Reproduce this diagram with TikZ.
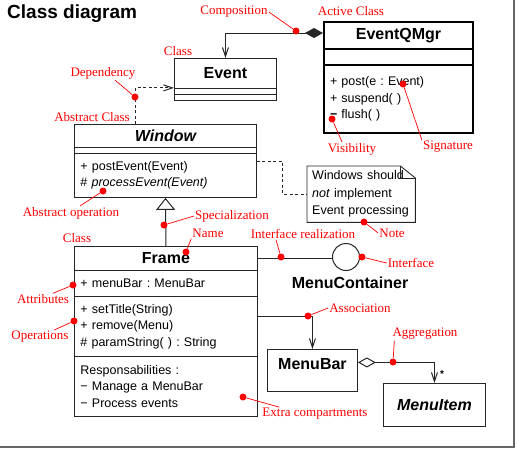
\documentclass[tikz,border=0pt]{standalone}
\usepackage{fontspec}
\setmainfont{Liberation Sans}
\newfontfamily\tagfont{Liberation Serif}
\usetikzlibrary{arrows.meta, positioning}
\frenchspacing

\tikzset{
  compart/.style={draw=black!85, line width=0.9pt, anchor=north west, inner xsep=6pt, inner ysep=0pt, align=left, font=\fontsize{12.5}{16.5}\selectfont},
  clsname/.style={compart, align=center, font=\bfseries\fontsize{16}{19}\selectfont},
  active/.style={draw=black, line width=2pt},
  tag/.style={text=red, inner sep=1pt, font=\tagfont\fontsize{13}{15}\selectfont},
  reddot/.style={circle, fill=red, inner sep=0pt, minimum size=7pt},
  lead/.style={red, line width=0.7pt},
  link/.style={black!85, line width=1pt},
  dep/.style={link, dash pattern=on 3pt off 2.5pt},
  barb/.style={-{Straight Barb[length=9pt,width=6pt]}},
}

\begin{document}
\begin{tikzpicture}[x=1pt, y=-1pt]
  \useasboundingbox (0,0) rectangle (517,451);

  % frame and title
  \draw[black!60, line width=1.5pt] (514,0) -- (514,447) -- (0,447);
  \node[anchor=west, inner sep=0pt, font=\bfseries\fontsize{19}{22}\selectfont] (title) at (7,14) {Class diagram};

  % active class
  \node[clsname, active, minimum width=149pt, minimum height=27pt] (qName) at (323,21) {EventQMgr};
  \node[compart, active, minimum width=149pt, minimum height=16pt] (qAttr) at (323,48) {};
  \node[compart, active, minimum width=149pt, text width=137pt, minimum height=68pt] (qOps) at (323,64)
    {+ post(e : Event)\\+ suspend( )\\\textbf{−} flush( )\\[-1pt]};

  % event
  \node[clsname, minimum width=102pt, minimum height=30pt] (eName) at (174,58) {Event};
  \node[compart, minimum width=102pt, minimum height=6pt] (eAttr) at (174,88) {};
  \node[compart, minimum width=102pt, minimum height=6pt] (eOps) at (174,94) {};

  % abstract class
  \node[clsname, minimum width=182pt, minimum height=23pt] (wName) at (74,124) {\itshape Window};
  \node[compart, minimum width=182pt, minimum height=6pt] (wAttr) at (74,147) {};
  \node[compart, minimum width=182pt, text width=170pt, minimum height=44pt] (wOps) at (74,153)
    {+ postEvent(Event)\\\# \textit{processEvent(Event)}};

  % frame class
  \node[clsname, minimum width=183pt, minimum height=24pt] (fName) at (74,246) {Frame};
  \node[compart, minimum width=183pt, text width=171pt, minimum height=26pt] (fAttr) at (74,270) {+ menuBar : MenuBar};
  \node[compart, minimum width=183pt, text width=171pt, minimum height=60pt] (fOps) at (74,296)
    {+ setTitle(String)\\+ remove(Menu)\\\# paramString( ) : String};
  \node[compart, minimum width=183pt, text width=171pt, minimum height=60pt] (fExtra) at (74,356)
    {Responsabilities :\\− Manage a MenuBar\\− Process events};

  % note
  \node[anchor=north west, inner xsep=5pt, inner ysep=0pt, minimum width=108pt, minimum height=56pt,
        text width=98pt, align=left, font=\fontsize{12.5}{17.5}\selectfont] (noteBox) at (307,166)
    {Windows should\\\textit{not} implement\\Event processing};
  \draw[black!85, line width=0.9pt] (noteBox.north west) -- ([xshift=-15pt]noteBox.north east)
    -- ([yshift=-12pt]noteBox.north east) -- (noteBox.south east) -- (noteBox.south west) -- cycle;
  \draw[black!85, line width=0.9pt] ([xshift=-15pt]noteBox.north east) |- ([yshift=-12pt]noteBox.north east);

  % interface
  \node[draw=black!85, line width=1pt, circle, minimum size=27pt, inner sep=0pt] (iface) at (346,257) {};
  \node[font=\bfseries\fontsize{16}{19}\selectfont] (ifName) at (350,283) {MenuContainer};

  % menu classes
  \node[clsname, minimum width=90pt, minimum height=42pt] (mBar) at (267,349) {\raisebox{12pt}{MenuBar}};
  \node[clsname, minimum width=102pt, minimum height=43pt] (mItem) at (383,383) {\itshape MenuItem};
  \node[font=\bfseries\fontsize{10}{12}\selectfont, inner sep=0pt] (mult) at (442,374) {*};

  % connectors
  \draw[link, {Diamond[length=18pt,width=10pt]}-{Straight Barb[length=9pt,width=6pt]}]
    ([yshift=2.5pt]qName.west) -| (eName.north);
  \draw[dep, barb] ([xshift=-30pt]wName.north) |- ([yshift=1pt]eName.south west);
  \draw[link, -{Triangle[open, length=12pt, width=19pt]}] (fName.north) -- (wOps.south);
  \draw[dep] ([yshift=-8pt]wOps.north east) -- ++(26,0) |- (noteBox.west);
  \draw[link] (fName.east) -- (fName.east -| iface.west);
  \draw[link, barb] ([yshift=-20pt]fOps.north east) -| (mBar.north);
  \draw[link, {Diamond[open,length=18pt,width=10pt]}-{Straight Barb[length=9pt,width=6pt]}]
    ([yshift=8pt]mBar.east) -| (mItem.north);

  % annotations
  \node[tag] (tComp) at (234,12) {Composition};
  \node[reddot] (dComp) at (296,31) {};
  \draw[lead] (tComp.east) -- (dComp);
  \node[tag] (tActive) at (351,11) {Active Class};
  \node[tag] (tEvent) at (178,51) {Class};
  \node[tag] (tDep) at (103,73) {Dependency};
  \node[reddot] (dDep) at (135,97) {};
  \draw[lead] ([xshift=12pt]tDep.south) -- (dDep);
  \node[tag] (tAbs) at (92,117) {Abstract Class};
  \node[tag] (tVis) at (352,149) {Visibility};
  \node[reddot] (dVis) at (332,119) {};
  \draw[lead] ([xshift=-10pt]tVis.north) -- (dVis);
  \node[tag] (tSig) at (448,147) {Signature};
  \node[reddot] (dSig) at (403,84) {};
  \draw[lead] (tSig.north west) -- (dSig);
  \node[tag] (tAbsOp) at (71,213) {Abstract operation};
  \node[reddot] (dAbsOp) at (103,191) {};
  \draw[lead] ([xshift=9pt]tAbsOp.north) -- (dAbsOp);
  \node[tag] (tSpec) at (232,216) {Specialization};
  \node[reddot] (dSpec) at (164,225) {};
  \draw[lead] (tSpec.west) -- (dSpec);
  \node[tag] (tFrame) at (77,238) {Class};
  \node[tag] (tName) at (208,233) {Name};
  \node[reddot] (dName) at (186,252) {};
  \draw[lead] (tName.south west) -- (dName);
  \node[tag] (tReal) at (303,234) {Interface realization};
  \node[reddot] (dReal) at (281,257) {};
  \draw[lead] ([xshift=-27pt]tReal.south) -- (dReal);
  \node[tag] (tNote) at (392,233) {Note};
  \node[reddot] (dNote) at (364,222) {};
  \draw[lead] (tNote.west) -- (dNote);
  \node[tag] (tIface) at (411,263) {Interface};
  \node[reddot] (dIface) at (362,257) {};
  \draw[lead] (tIface.west) -- (dIface);
  \node[tag] (tAttr) at (43,299) {Attributes};
  \node[reddot] (dAttr) at (73,285) {};
  \draw[lead] ([xshift=10pt]tAttr.north) -- (dAttr);
  \node[tag] (tOps) at (40,337) {Operations};
  \node[reddot] (dOps) at (74,321) {};
  \draw[lead] ([xshift=14pt]tOps.north) -- (dOps);
  \node[tag] (tAssoc) at (360,308) {Association};
  \node[reddot] (dAssoc) at (308,316) {};
  \draw[lead] (tAssoc.west) -- (dAssoc);
  \node[tag] (tAggr) at (425,334) {Aggregation};
  \node[reddot] (dAggr) at (393,362) {};
  \draw[lead] ([xshift=3pt]tAggr.south west) -- (dAggr);
  \node[tag] (tExtra) at (315,414) {Extra compartments};
  \node[reddot] (dExtra) at (243,397) {};
  \draw[lead] ([xshift=18pt]tExtra.north west) -- (dExtra);
\end{tikzpicture}
\end{document}
